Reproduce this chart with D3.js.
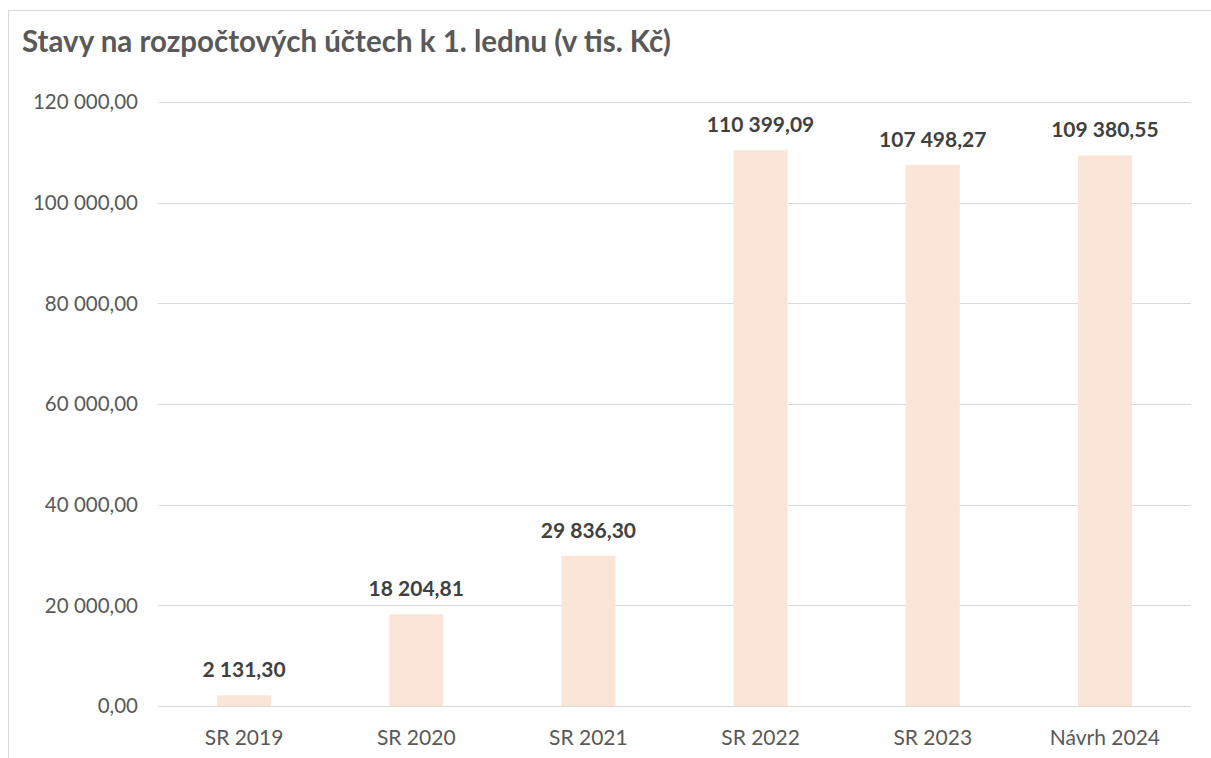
<!DOCTYPE html>
<html><head><meta charset="utf-8">
<script src="https://cdn.jsdelivr.net/npm/d3@7"></script>
<style>body{margin:0;background:#fff}svg{display:block}text{font-family:Lato,"Open Sans",sans-serif}</style>
</head><body>
<script>
const categories = ["SR 2019","SR 2020","SR 2021","SR 2022","SR 2023","Návrh 2024"];
const values = [2131.30, 18204.81, 29836.30, 110399.09, 107498.27, 109380.55];
const yTicks = [0, 20000, 40000, 60000, 80000, 100000, 120000];
const title = "Stavy na rozpočtových účtech k 1. lednu (v tis. Kč)";

const W = 1211, H = 758;
const svg = d3.select("body").append("svg").attr("width", W).attr("height", H);
svg.append("rect").attr("x", 8.5).attr("y", 10.5).attr("width", W + 10).attr("height", H + 10)
  .attr("fill", "#fff").attr("stroke", "#D9D9D9").attr("stroke-width", 1);

const x = d3.scaleBand().domain(categories).range([158, 1191]).paddingInner(0.686).paddingOuter(0.343);
const y = d3.scaleLinear().domain([0, 120000]).range([706, 102]);
const fmt = v => d3.format(",.2f")(v).replace(/,/g, " ").replace(".", ",");

svg.append("text").attr("x", 22).attr("y", 52).attr("fill", "#595959")
  .attr("font-size", 29.5).attr("font-weight", "bold").text(title);

svg.append("g").selectAll("line").data(yTicks).join("line")
  .attr("x1", 158).attr("x2", 1191).attr("y1", d => Math.round(y(d)) + 0.5).attr("y2", d => Math.round(y(d)) + 0.5)
  .attr("stroke", "#D9D9D9").attr("stroke-width", 1);

svg.append("g").selectAll("text").data(yTicks).join("text")
  .attr("x", 138).attr("y", d => y(d)).attr("dy", "0.35em").attr("text-anchor", "end")
  .attr("fill", "#595959").attr("font-size", 20.5).text(d => fmt(d));

svg.append("g").selectAll("rect").data(values).join("rect")
  .attr("x", (d, i) => x(categories[i])).attr("width", x.bandwidth())
  .attr("y", d => y(d)).attr("height", d => y(0) - y(d)).attr("fill", "#FBE5D6");

svg.append("g").selectAll("text").data(values).join("text")
  .attr("x", (d, i) => x(categories[i]) + x.bandwidth() / 2).attr("y", d => y(d) - 18)
  .attr("text-anchor", "middle").attr("fill", "#404040").attr("font-size", 21).attr("font-weight", "bold")
  .text(d => fmt(d));

svg.append("g").selectAll("text").data(categories).join("text")
  .attr("x", d => x(d) + x.bandwidth() / 2).attr("y", 745)
  .attr("text-anchor", "middle").attr("fill", "#595959").attr("font-size", 21).text(d => d);
</script>
</body></html>
